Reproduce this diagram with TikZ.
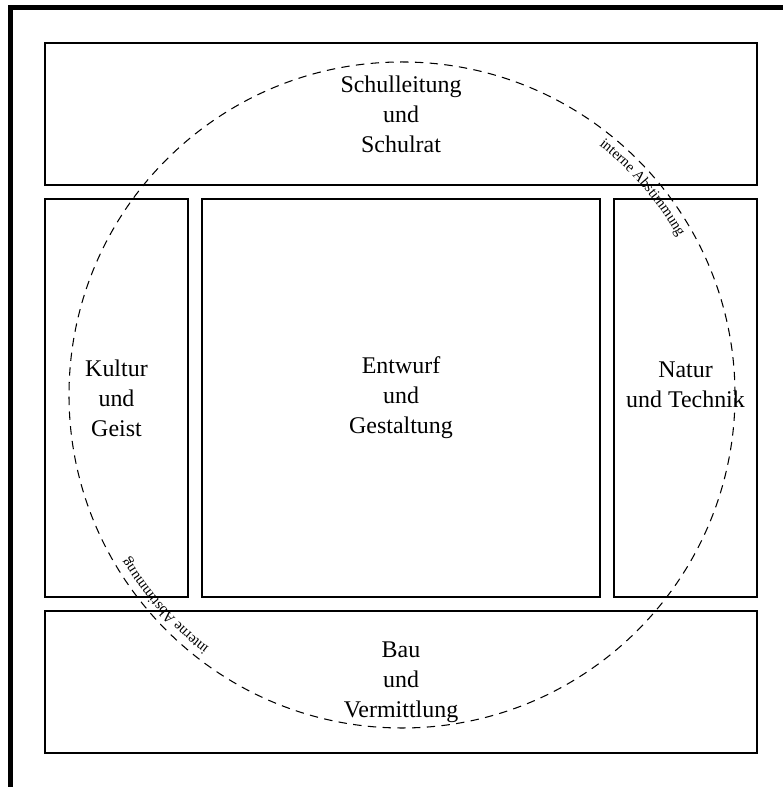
\documentclass[tikz,border=0pt]{standalone}
\usepackage{fontspec}
\setmainfont{Liberation Serif}
\usetikzlibrary{decorations.text}

\begin{document}
\begin{tikzpicture}[
  feld/.style = {draw, line width = 1.4pt, align = center, inner sep = 0pt,
                 font = \fontsize{22.7}{28.45}\selectfont},
  kreis/.style = {line width = 1pt, dash pattern = on 8pt off 6pt},
  bogentext/.style = {decorate, decoration = {text along path, text align = center,
                 text = {|\fontsize{14}{15}\selectfont|interne Abstimmung}}}
]
\useasboundingbox (0,0) rectangle (26.1,26.233);
\draw [line width = 4.7pt] (0.35,0) -- (0.35,25.983) -- (26.1,25.983);

\node [feld, minimum width = 23.733cm, minimum height = 4.733cm] (leitung) at (13.367,22.433) {Schulleitung\\und\\Schulrat};
\node [feld, minimum width = 4.767cm, minimum height = 13.267cm] (kultur) at (3.883,12.967) {Kultur\\und\\Geist};
\node [feld, minimum width = 13.267cm, minimum height = 13.267cm] (entwurf) at (13.367,12.967) {Entwurf\\und\\Gestaltung};
\node [feld, minimum width = 4.767cm, minimum height = 13.267cm] (natur) at (22.85,12.967) {};
\node [feld, draw = none] (naturtext) at (22.85,13.4) {Natur\\und Technik};
\node [feld, minimum width = 23.733cm, minimum height = 4.733cm] (bau) at (13.367,3.5) {Bau\\und\\Vermittlung};

% interne Abstimmung
\coordinate (mitte) at (13.4,13.067);
\draw [kreis] (mitte) circle (11.1);
\path [bogentext] (mitte) ++(60:10.6) arc [start angle = 60, end angle = 21.5, radius = 10.6];
\path [bogentext] (mitte) ++(241:10.6) arc [start angle = 241, end angle = 202.4, radius = 10.6];
\end{tikzpicture}
\end{document}
